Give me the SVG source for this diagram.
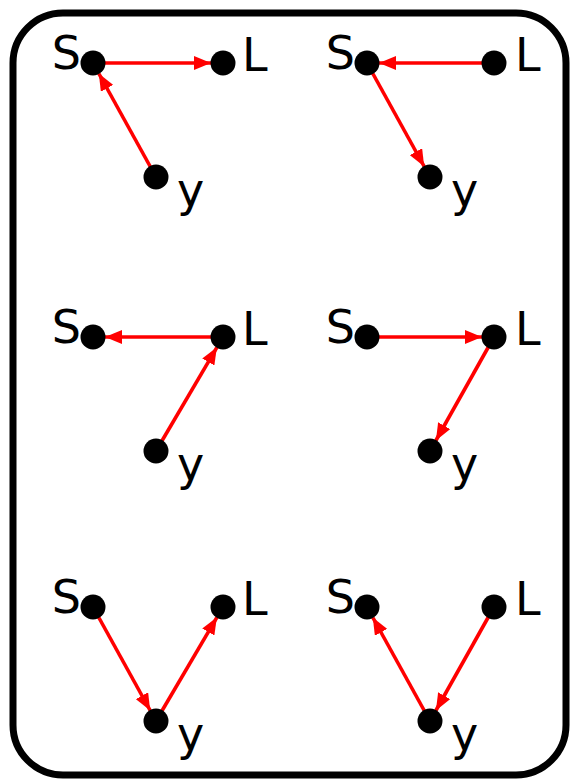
<svg xmlns="http://www.w3.org/2000/svg" width="571" height="780" viewBox="0 0 571 780">
<style>
.frame{fill:#fff;stroke:#000;stroke-width:7}
.edge{stroke:#ff0000;stroke-width:3.6;fill:none;marker-end:url(#ah)}
.dot{fill:#000}
.lbl{font-family:"DejaVu Sans",sans-serif;font-size:46px;fill:#000}
</style>
<defs>
<marker id="ah" markerUnits="userSpaceOnUse" markerWidth="17" markerHeight="14" refX="17" refY="7" orient="auto">
<path d="M0,0 L17,7 L0,14 z" fill="#ff0000"/>
</marker>
</defs>
<rect class="frame" x="13" y="13" width="553" height="762" rx="50" ry="50"/>
<g id="connectors">
<line class="edge" x1="93" y1="63" x2="211" y2="63"/>
<line class="edge" x1="156" y1="177" x2="98.8" y2="73.5"/>
<line class="edge" x1="494" y1="63" x2="379" y2="63"/>
<line class="edge" x1="367" y1="63" x2="424.2" y2="166.5"/>
<line class="edge" x1="223" y1="337" x2="105" y2="337"/>
<line class="edge" x1="156" y1="451" x2="216.9" y2="347.3"/>
<line class="edge" x1="367" y1="337" x2="482" y2="337"/>
<line class="edge" x1="494" y1="337" x2="435.9" y2="440.5"/>
<line class="edge" x1="93" y1="607" x2="150.2" y2="710.5"/>
<line class="edge" x1="156" y1="721" x2="216.9" y2="617.3"/>
<line class="edge" x1="430" y1="721" x2="372.8" y2="617.5"/>
<line class="edge" x1="494" y1="607" x2="435.9" y2="710.5"/>
</g>
<g id="p1S"><circle class="dot" cx="93" cy="63" r="12.5"/><text class="lbl" x="81" y="69" text-anchor="end">S</text></g>
<g id="p1L"><circle class="dot" cx="223" cy="63" r="12.5"/><text class="lbl" x="242" y="71">L</text></g>
<g id="p1y"><circle class="dot" cx="156" cy="177" r="12.5"/><text class="lbl" x="177" y="206">y</text></g>
<g id="p2S"><circle class="dot" cx="367" cy="63" r="12.5"/><text class="lbl" x="355" y="69" text-anchor="end">S</text></g>
<g id="p2L"><circle class="dot" cx="494" cy="63" r="12.5"/><text class="lbl" x="515" y="71">L</text></g>
<g id="p2y"><circle class="dot" cx="430" cy="177" r="12.5"/><text class="lbl" x="451" y="206">y</text></g>
<g id="p3S"><circle class="dot" cx="93" cy="337" r="12.5"/><text class="lbl" x="81" y="343" text-anchor="end">S</text></g>
<g id="p3L"><circle class="dot" cx="223" cy="337" r="12.5"/><text class="lbl" x="242" y="345">L</text></g>
<g id="p3y"><circle class="dot" cx="156" cy="451" r="12.5"/><text class="lbl" x="177" y="480">y</text></g>
<g id="p4S"><circle class="dot" cx="367" cy="337" r="12.5"/><text class="lbl" x="355" y="343" text-anchor="end">S</text></g>
<g id="p4L"><circle class="dot" cx="494" cy="337" r="12.5"/><text class="lbl" x="515" y="345">L</text></g>
<g id="p4y"><circle class="dot" cx="430" cy="451" r="12.5"/><text class="lbl" x="451" y="480">y</text></g>
<g id="p5S"><circle class="dot" cx="93" cy="607" r="12.5"/><text class="lbl" x="81" y="613" text-anchor="end">S</text></g>
<g id="p5L"><circle class="dot" cx="223" cy="607" r="12.5"/><text class="lbl" x="242" y="615">L</text></g>
<g id="p5y"><circle class="dot" cx="156" cy="721" r="12.5"/><text class="lbl" x="177" y="750">y</text></g>
<g id="p6S"><circle class="dot" cx="367" cy="607" r="12.5"/><text class="lbl" x="355" y="613" text-anchor="end">S</text></g>
<g id="p6L"><circle class="dot" cx="494" cy="607" r="12.5"/><text class="lbl" x="515" y="615">L</text></g>
<g id="p6y"><circle class="dot" cx="430" cy="721" r="12.5"/><text class="lbl" x="451" y="750">y</text></g>
</svg>
